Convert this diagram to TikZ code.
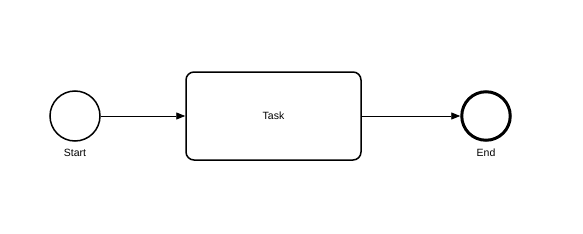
\documentclass[tikz,border=0pt]{standalone}
\usepackage{fontspec}
\setmainfont{Liberation Sans}
\usetikzlibrary{arrows.meta}
\begin{document}
\begin{tikzpicture}[x=1pt,y=-1pt,
  event/.style={circle,draw,line width=1.5pt,minimum size=50pt,inner sep=0pt},
  endevent/.style={circle,draw,line width=3pt,minimum size=48.5pt,inner sep=0pt},
  task/.style={rectangle,rounded corners=8pt,draw,line width=1.5pt,minimum width=175pt,minimum height=88pt,inner sep=0pt},
  lbl/.style={font=\fontsize{10.5}{12}\selectfont},
  flow/.style={-{Triangle[length=9pt,width=7pt]},line width=0.8pt}]
\useasboundingbox (0,0) rectangle (583,233);
\node[event] (start) at (75,116) {};
\node[lbl] (startl) at (75,153) {Start};
\node[task,lbl] (task) at (273.5,116) {Task};
\node[endevent] (end) at (486,116) {};
\node[lbl] (endl) at (486,153) {End};
\draw[flow] (start) -- (task);
\draw[flow] (task) -- (end);
\end{tikzpicture}
\end{document}
